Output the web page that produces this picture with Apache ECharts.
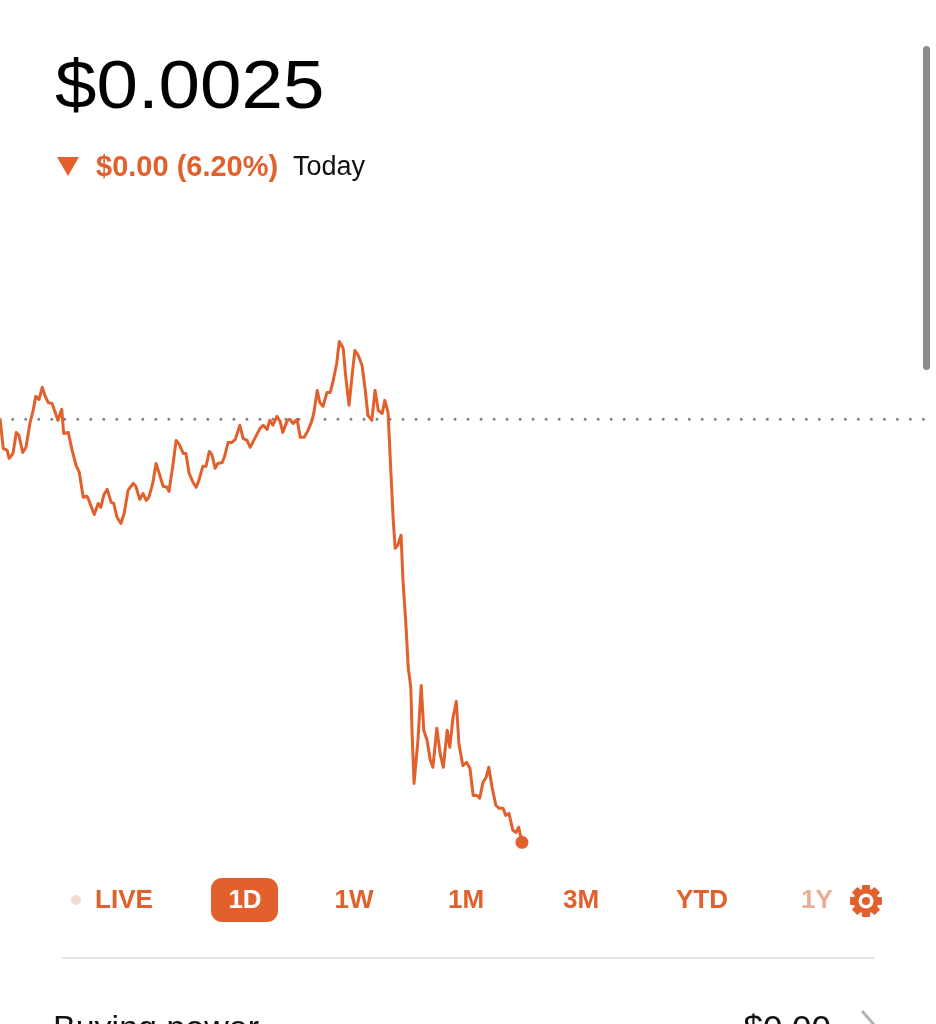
<!DOCTYPE html>
<html>
<head>
<meta charset="utf-8">
<style>
  html, body { margin: 0; padding: 0; background: #fff; }
  #chart { width: 936px; height: 1024px; }
</style>
<script src="https://cdn.jsdelivr.net/npm/echarts@6/dist/echarts.min.js"></script>
</head>
<body>
<div id="chart"></div>
<script>
// minutes since the start of the day (1D view, 24h wide)
const minutes = [0,5,11,14,20,25,29,35,40,46,51,55,60,65,69,74,80,85,89,95,98,105,111,117,122,128,134,138,145,151,155,160,165,171,175,180,186,191,197,205,209,215,220,225,229,235,240,245,251,257,260,266,271,275,282,286,291,297,302,306,312,317,322,326,331,335,342,346,351,357,362,369,374,380,385,392,400,405,411,415,420,426,431,435,442,446,451,457,462,468,474,480,483,488,492,497,503,508,512,518,522,528,532,537,542,546,551,557,562,566,572,577,582,588,592,597,602,605,608,612,617,620,625,628,632,634,637,643,648,652,657,662,666,672,677,682,688,692,697,702,706,712,718,723,728,734,738,743,748,752,757,763,768,774,778,783,789,794,798,803];

const prices = [0.0026654,0.0026537,0.0026529,0.0026498,0.0026517,0.0026599,0.0026588,0.0026521,0.0026541,0.0026634,
  0.0026685,0.0026740,0.0026728,0.0026775,0.0026744,0.0026716,0.0026712,0.0026677,0.0026646,0.0026689,
  0.0026595,0.0026599,0.0026529,0.0026471,0.0026443,0.0026346,0.0026350,0.0026326,0.0026279,0.0026322,
  0.0026307,0.0026357,0.0026377,0.0026326,0.0026322,0.0026268,0.0026244,0.0026283,0.0026373,0.0026400,
  0.0026389,0.0026338,0.0026361,0.0026334,0.0026346,0.0026400,0.0026478,0.0026439,0.0026389,0.0026385,
  0.0026369,0.0026471,0.0026568,0.0026556,0.0026517,0.0026517,0.0026439,0.0026404,0.0026385,0.0026412,
  0.0026467,0.0026467,0.0026525,0.0026513,0.0026459,0.0026478,0.0026482,0.0026510,0.0026560,0.0026560,
  0.0026572,0.0026627,0.0026576,0.0026568,0.0026541,0.0026576,0.0026615,0.0026627,0.0026611,0.0026646,
  0.0026627,0.0026662,0.0026642,0.0026599,0.0026646,0.0026650,0.0026634,0.0026650,0.0026580,0.0026580,
  0.0026607,0.0026646,0.0026677,0.0026763,0.0026716,0.0026701,0.0026755,0.0026755,0.0026794,0.0026868,
  0.0026954,0.0026927,0.0026814,0.0026705,0.0026829,0.0026919,0.0026900,0.0026861,0.0026763,0.0026666,
  0.0026646,0.0026763,0.0026685,0.0026673,0.0026724,0.0026677,0.0026412,0.0026256,0.0026147,0.0026159,
  0.0026198,0.0026022,0.0025827,0.0025683,0.0025605,0.0025425,0.0025230,0.0025398,0.0025612,0.0025437,
  0.0025398,0.0025320,0.0025293,0.0025445,0.0025347,0.0025293,0.0025437,0.0025371,0.0025488,0.0025550,
  0.0025386,0.0025300,0.0025312,0.0025289,0.0025183,0.0025183,0.0025172,0.0025234,0.0025254,0.0025293,
  0.0025215,0.0025144,0.0025133,0.0025133,0.0025105,0.0025113,0.0025047,0.0025039,0.0025059,0.0025000];

const prevClose = [0.002665, 0.002665];
const prevCloseMinutes = [0, 1440];

const priceText = "$0.0025";
const changeText = "$0.00 (6.20%)";
const rangeLabels = ["LIVE", "1D", "1W", "1M", "3M", "YTD", "1Y"];

const ORANGE = "#e2602c";
const FONT = '"Liberation Sans", Arial, sans-serif';

const chart = echarts.init(document.getElementById("chart"));

// tab centres on the row under the chart
const tabX = [124, 245, 354, 466, 581, 702, 817];
const tabs = rangeLabels.map((label, i) => ({
  type: "text",
  x: tabX[i],
  y: 901,
  z: 10,
  style: {
    text: label,
    fill: label === "1D" ? "#fff" : label === "1Y" ? "#eaae96" : ORANGE,
    font: "bold 26px " + FONT,
    align: "center",
    verticalAlign: "middle",
  },
}));

const gearTeeth = [];
for (let k = 0; k < 8; k++) {
  gearTeeth.push({
    type: "rect",
    rotation: (k * Math.PI) / 4,
    shape: { x: -4, y: -16, width: 8, height: 8, r: 1 },
    style: { fill: ORANGE },
  });
}

const option = {
  backgroundColor: "#fff",
  animation: false,
  grid: { left: 0, right: 0, top: 304, height: 564 },
  xAxis: { type: "value", min: 0, max: 1440, show: false },
  yAxis: { type: "value", min: 0.00249, max: 0.00271, show: false },
  series: [
    {
      name: "prev close",
      type: "line",
      data: prevCloseMinutes.map((m, i) => [m, prevClose[i]]),
      showSymbol: false,
      silent: true,
      z: 1,
      lineStyle: { color: "#7d838b", width: 3, type: [0.01, 13], cap: "round", dashOffset: 0.3 },
    },
    {
      name: "price",
      type: "line",
      data: minutes.map((m, i) => [m, prices[i]]),
      showSymbol: false,
      z: 3,
      lineStyle: { color: ORANGE, width: 3, join: "round" },
    },
    {
      name: "last",
      type: "scatter",
      data: [[minutes[minutes.length - 1], prices[prices.length - 1]]],
      symbolSize: 13,
      z: 4,
      itemStyle: { color: ORANGE, opacity: 1 },
    },
  ],
  graphic: [
    {
      type: "text",
      x: 55,
      y: 89,
      scaleX: 1.08,
      style: { text: priceText, fill: "#000", font: "normal 69px " + FONT, verticalAlign: "middle" },
    },
    {
      type: "polygon",
      shape: { points: [[57, 157], [79, 157], [68, 176]] },
      style: { fill: ORANGE },
    },
    {
      type: "text",
      x: 96,
      y: 168,
      style: { text: changeText, fill: ORANGE, font: "bold 29px " + FONT, verticalAlign: "middle" },
    },
    {
      type: "text",
      x: 293,
      y: 168,
      style: { text: "Today", fill: "#111", font: "normal 27px " + FONT, verticalAlign: "middle" },
    },
    {
      // scrollbar
      type: "rect",
      shape: { x: 923, y: 46, width: 7, height: 324, r: 3.5 },
      style: { fill: "#8b8b8b" },
    },
    {
      type: "circle",
      shape: { cx: 76, cy: 900, r: 5 },
      style: { fill: "#f4dbd2" },
    },
    {
      type: "rect",
      shape: { x: 211, y: 878, width: 67, height: 44, r: 11 },
      style: { fill: ORANGE },
    },
    ...tabs,
    {
      type: "group",
      x: 866,
      y: 901,
      children: [
        ...gearTeeth,
        { type: "circle", shape: { cx: 0, cy: 0, r: 12.5 }, style: { fill: ORANGE } },
        { type: "circle", shape: { cx: 0, cy: 0, r: 7.5 }, style: { fill: "#fff" } },
        { type: "circle", shape: { cx: 0, cy: 0, r: 4 }, style: { fill: ORANGE } },
      ],
    },
    {
      type: "line",
      shape: { x1: 62, y1: 958, x2: 875, y2: 958 },
      style: { stroke: "#e5e7e9", lineWidth: 2 },
    },
    {
      type: "text",
      x: 53,
      y: 1030,
      style: { text: "Buying power", fill: "#111", font: "normal 34px " + FONT, verticalAlign: "middle" },
    },
    {
      type: "text",
      x: 831,
      y: 1030,
      style: { text: "$0.00", fill: "#111", font: "normal 35px " + FONT, align: "right", verticalAlign: "middle" },
    },
    {
      type: "polyline",
      shape: { points: [[862, 1011], [876, 1027]] },
      style: { stroke: "#b3b3b3", lineWidth: 3, fill: null },
    },
  ],
};

chart.setOption(option);
</script>
</body>
</html>
